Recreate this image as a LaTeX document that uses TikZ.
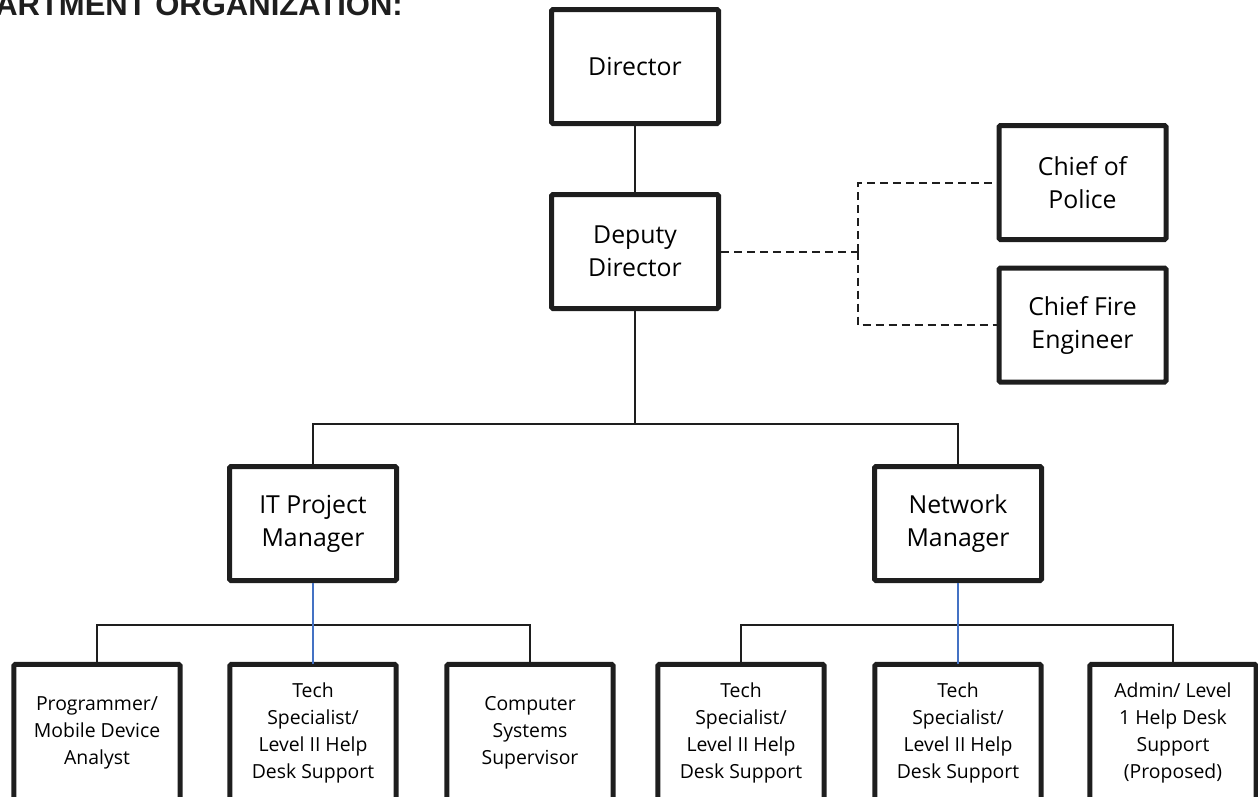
\documentclass[tikz,border=0pt]{standalone}
\usepackage{fontspec}
\setmainfont{Open Sans}
\newfontfamily\headfont{Liberation Sans}
\definecolor{ink}{RGB}{30,30,30}
\definecolor{linkblue}{RGB}{68,114,196}

\begin{document}
\begin{tikzpicture}[x=1pt,y=-1pt,
  unit/.style={draw=ink, line width=5pt, rounded corners=1.5pt,
    minimum width=167pt, minimum height=114pt, inner sep=0pt,
    align=center, font=\fontsize{24.8}{33}\selectfont},
  staff/.style={inner sep=0pt, minimum width=166pt, minimum height=137pt,
    align=center, font=\fontsize{19.4}{27}\selectfont},
  staffframe/.style={draw=ink, line width=5pt, rounded corners=1.5pt},
  link/.style={draw=ink, line width=1.8pt},
  bluelink/.style={draw=linkblue, line width=2pt},
  liaison/.style={draw=ink, line width=2pt, dash pattern=on 8pt off 5pt}]

\useasboundingbox (0,0) rectangle (1258,796);
\clip (0,0) rectangle (1258,796);

% heading, partly cut by the page edge
\node[anchor=base east, inner sep=0pt, text=ink,
  font=\headfont\bfseries\fontsize{31}{31}\selectfont] (title) at (403,15)
  {ARTMENT ORGANIZATION:};

% management boxes
\node[unit] (dir)  at (635,66.5)   {Director};
\node[unit] (dep)  at (635,251.5)  {Deputy\\Director};
\node[unit] (pol)  at (1082.5,182.5) {Chief of\\Police};
\node[unit] (fire) at (1082.5,325) {Chief Fire\\Engineer};
\node[unit] (itpm) at (313,523.5) {IT Project\\Manager};
\node[unit] (net)  at (958,523.5) {Network\\Manager};

% staff boxes (frames run off the bottom edge)
\node[staff] (s1) at (97,733)    {Programmer/\\Mobile Device\\Analyst};
\node[staff] (s2) at (313,733)   {Tech\\Specialist/\\Level II Help\\Desk Support};
\node[staff] (s3) at (530,733)   {Computer\\Systems\\Supervisor};
\node[staff] (s4) at (741,733)   {Tech\\Specialist/\\Level II Help\\Desk Support};
\node[staff] (s5) at (958,733)   {Tech\\Specialist/\\Level II Help\\Desk Support};
\node[staff] (s6) at (1173,733)  {Admin/ Level\\1 Help Desk\\Support\\(Proposed)};
\foreach \n in {s1,s2,s3,s4,s5,s6}
  \draw[staffframe] ([yshift=-30pt]\n.south west) -- (\n.north west)
    -- (\n.north east) -- ([yshift=-30pt]\n.south east);

% solid reporting lines
\coordinate (hub) at (635,424);
\coordinate (itbar) at (313,625);
\coordinate (netbar) at (958,625);
\draw[link] (dir.south) -- (dep.north);
\draw[link] (dep.south) -- (hub);
\draw[link] (hub) -| (itpm.north);
\draw[link] (hub) -| (net.north);
\draw[link] (s1.north) |- (itbar) -| (s3.north);
\draw[link] (s4.north) |- (netbar) -| (s6.north);
\draw[bluelink] (itpm.south) -- (s2.north);
\draw[bluelink] (net.south) -- (s5.north);

% dashed liaison lines
\coordinate (split) at (858,251.5);
\draw[liaison] (dep.east) -- (split);
\draw[liaison] (split) |- (pol.west);
\draw[liaison] (split) |- (fire.west);
\end{tikzpicture}
\end{document}
